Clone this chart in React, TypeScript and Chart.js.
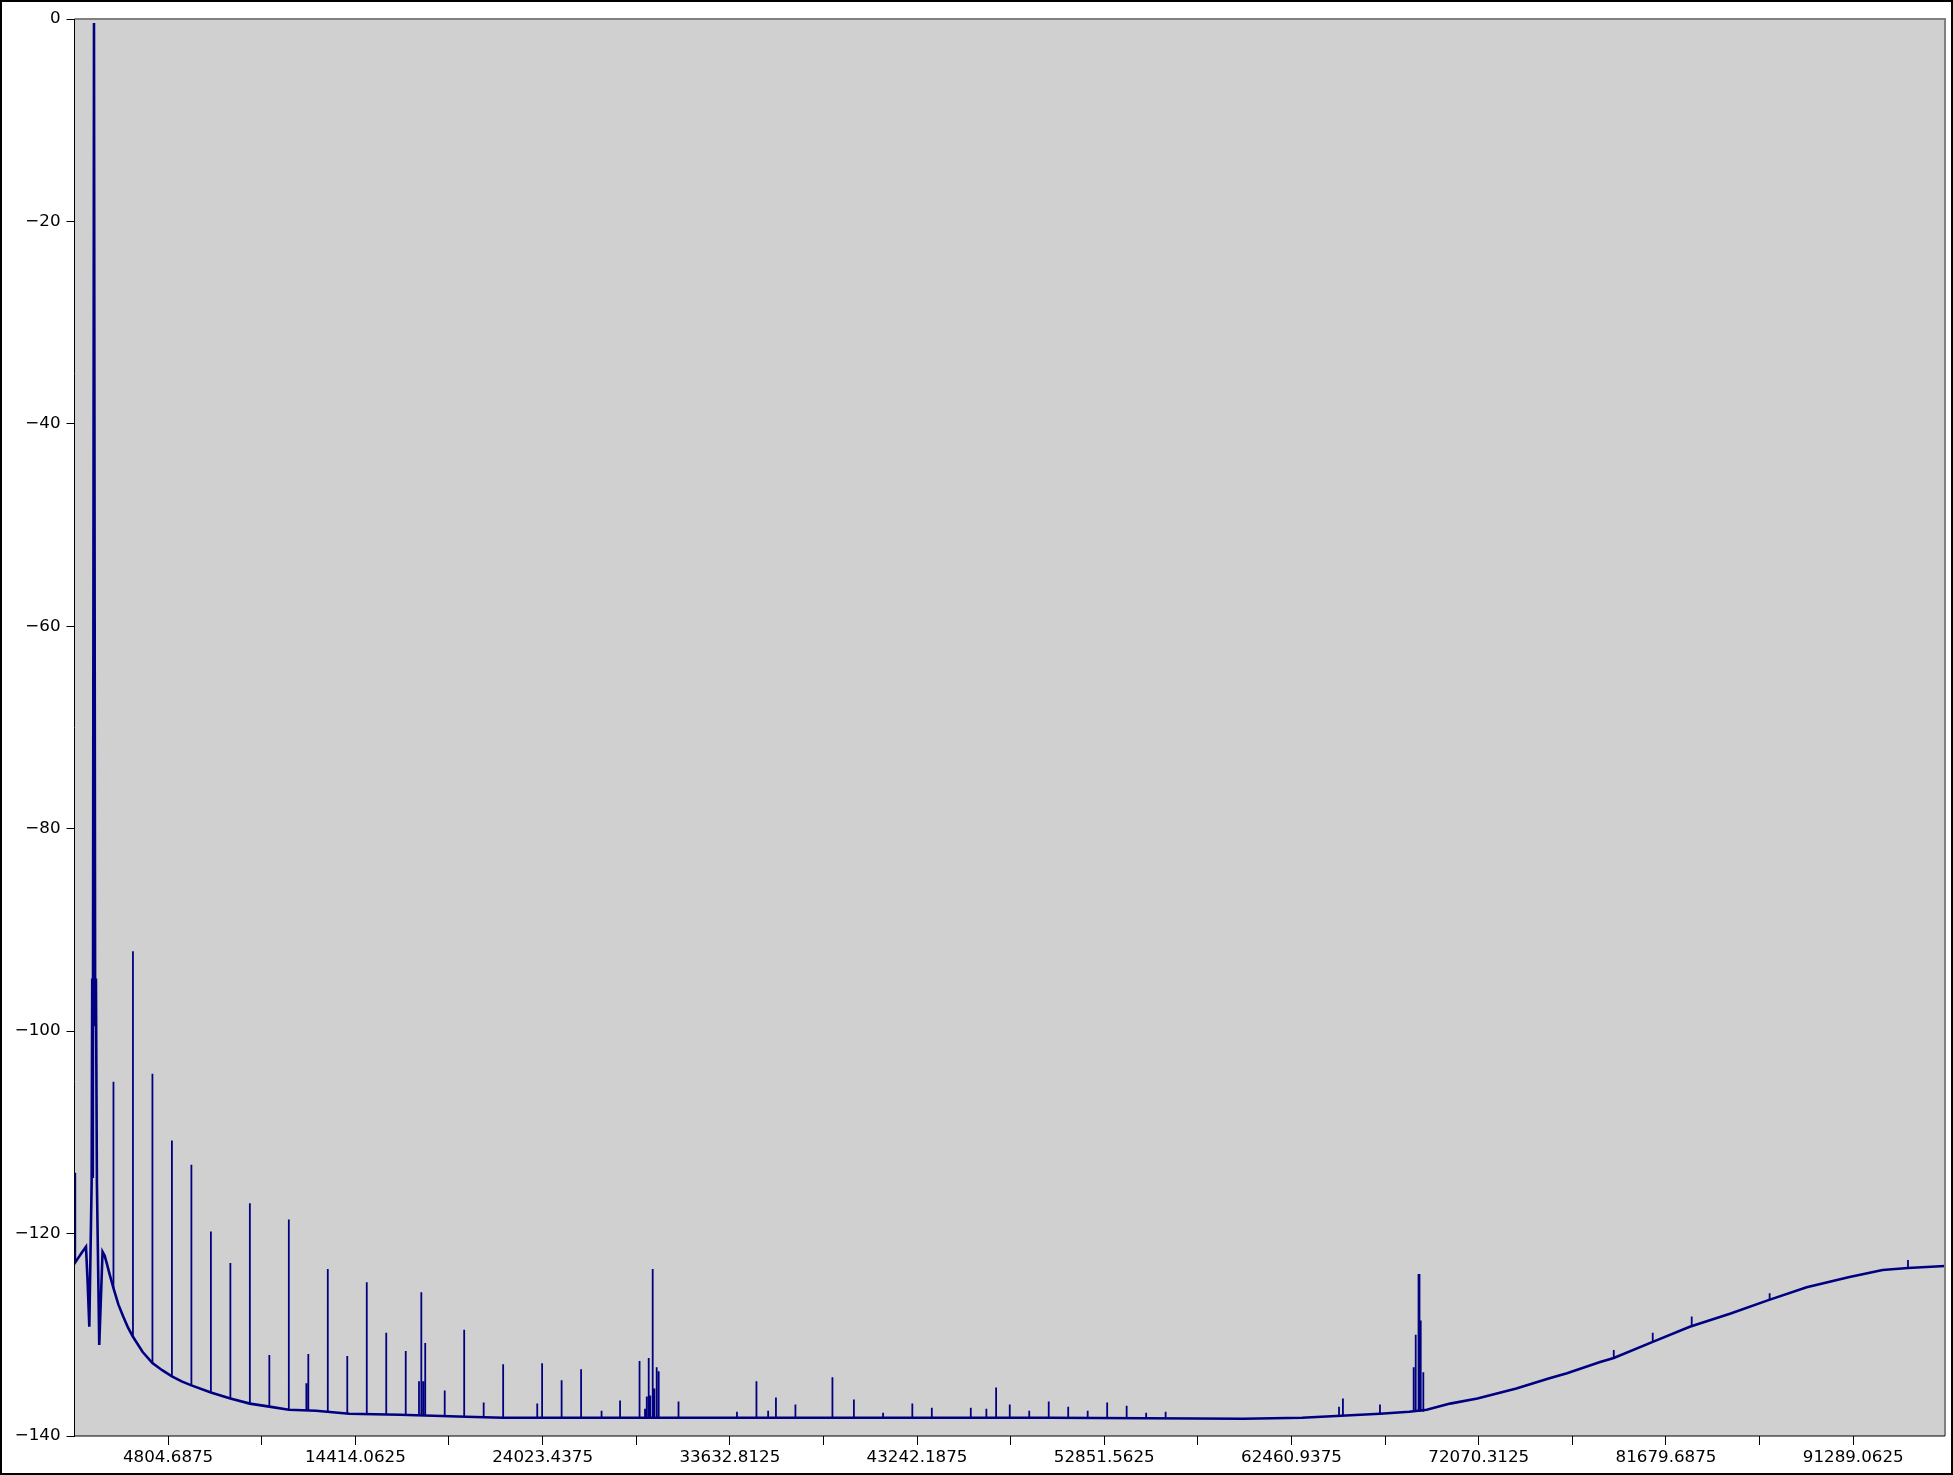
import { useEffect, useRef } from 'react';
import { Chart, registerables } from 'chart.js';

Chart.register(...registerables);

// Noise floor of the spectrum (Hz, dB)
const floorFreqs = [
  0, 20, 195, 370, 590, 675, 760, 880, 910, 940, 1000, 1060, 1100, 1150, 1270,
  1440, 1550, 1650, 1800, 2000, 2250, 2500, 2750, 3000, 3500, 4000, 4500, 5000, 5500,
  6000, 7000, 8000, 9000, 10000, 11000, 12400, 14100, 16700, 20100, 22000, 30000,
  40000, 50000, 60000, 63000, 65000, 67000, 68500, 69400, 70600, 72000, 74000, 75700,
  76600, 78300, 79000, 81000, 82900, 85000, 86900, 88900, 91100, 92800, 94100, 96000,
];
const floorLevels = [
  -114, -122.9, -122.4, -121.9, -121.3, -124.9, -129.2, -115, -94.8, -114.5, -0.4, -99.4, -94.8, -115, -131,
  -121.8, -122.2, -122.9, -124.0, -125.4, -127.0, -128.2, -129.3, -130.2, -131.7, -132.8, -133.5, -134.1, -134.6,
  -135.0, -135.7, -136.3, -136.8, -137.1, -137.4, -137.5, -137.8, -137.9, -138.1, -138.2, -138.2,
  -138.2, -138.2, -138.3, -138.2, -138.0, -137.8, -137.6, -137.4, -136.8, -136.3, -135.3, -134.3,
  -133.8, -132.7, -132.3, -130.7, -129.2, -127.9, -126.6, -125.3, -124.3, -123.6, -123.4, -123.2,
];

// Discrete spectral lines (Hz, peak dB, floor dB under the line)
const spikeFreqs = [
  2000, 3000, 4000, 5000, 6000, 7000, 8000, 9000, 10000, 11000, 11900, 12000, 13000, 14000,
  15000, 16000, 17000, 17680, 17800, 17900, 18000, 19000, 20000, 21000, 22000, 23750, 24000,
  25000, 26000, 27050, 28000, 29000, 29280, 29370, 29470, 29550, 29675, 29760, 29880, 29983,
  31000, 34000, 35000, 35600, 36000, 37000, 38900, 40000, 41500, 43000, 44000, 46000, 46800,
  47300, 48000, 49000, 50000, 51000, 52000, 53000, 54000, 55000, 56000, 64900, 65100, 67000,
  68730, 68835, 68980, 69030, 69093, 69226, 79000, 81000, 83000, 87000, 94100,
];
const spikePeaks = [
  -105.0, -92.1, -104.2, -110.8, -113.2, -119.8, -122.9, -117.0, -132.0, -118.6, -134.8, -131.9, -123.5, -132.1,
  -124.8, -129.8, -131.6, -134.6, -125.8, -134.6, -130.8, -135.5, -129.5, -136.7, -132.9, -136.8, -132.8,
  -134.5, -133.4, -137.5, -136.5, -132.6, -137.3, -136.1, -132.3, -136.0, -123.5, -135.3, -133.2, -133.6,
  -136.6, -137.6, -134.6, -137.5, -136.2, -136.9, -134.2, -136.4, -137.7, -136.8, -137.2, -137.2, -137.3,
  -135.2, -136.9, -137.5, -136.6, -137.1, -137.5, -136.7, -137.0, -137.7, -137.6, -137.1, -136.3, -136.9,
  -133.2, -130.0, -124.0, -124.0, -128.6, -133.7, -131.5, -129.8, -128.2, -125.9, -122.6,
];
const spikeBases = [
  -125.4, -130.2, -132.8, -134.1, -135.0, -135.7, -136.3, -136.8, -137.1, -137.4, -137.5, -137.5, -137.6, -137.8,
  -137.8, -137.9, -137.9, -138.0, -138.0, -138.0, -138.0, -138.0, -138.1, -138.1, -138.2, -138.2, -138.2,
  -138.2, -138.2, -138.2, -138.2, -138.2, -138.2, -138.2, -138.2, -138.2, -138.2, -138.2, -138.2, -138.2,
  -138.2, -138.2, -138.2, -138.2, -138.2, -138.2, -138.2, -138.2, -138.2, -138.2, -138.2, -138.2, -138.2,
  -138.2, -138.2, -138.2, -138.2, -138.2, -138.2, -138.2, -138.2, -138.2, -138.2, -138.0, -138.0, -137.8,
  -137.6, -137.6, -137.6, -137.6, -137.6, -137.6, -132.3, -130.7, -129.2, -126.6, -123.4,
];

const xLabeledTicks = [
  4804.6875, 14414.0625, 24023.4375, 33632.8125, 43242.1875,
  52851.5625, 62460.9375, 72070.3125, 81679.6875, 91289.0625,
];
const xUnlabeledTicks = [
  9609.375, 19218.75, 28828.125, 38437.5, 48046.875,
  57656.25, 67265.625, 76875, 86484.375,
];
const yTickValues = [0, -20, -40, -60, -80, -100, -120, -140];

const W = 1953;
const H = 1475;
const FONT = { family: 'DejaVu Sans', size: 16.7 };

export default function App() {
  const ref = useRef<HTMLCanvasElement | null>(null);

  useEffect(() => {
    document.body.style.margin = '0';
    document.body.style.overflow = 'hidden';
    const canvas = ref.current;
    if (!canvas) return;

    const floorData = floorFreqs.map((f, i) => ({ x: f, y: floorLevels[i] }));
    const spikeData: { x: number; y: number | null }[] = [];
    spikeFreqs.forEach((f, i) => {
      spikeData.push({ x: f, y: spikeBases[i] });
      spikeData.push({ x: f, y: spikePeaks[i] });
      spikeData.push({ x: f, y: null });
    });

    const allXTicks = [...xLabeledTicks, ...xUnlabeledTicks].sort((a, b) => a - b);

    const framePlugin = {
      id: 'frame',
      beforeDraw(chart: any) {
        const { ctx, chartArea } = chart;
        ctx.save();
        ctx.fillStyle = '#ffffff';
        ctx.fillRect(0, 0, chart.width, chart.height);
        ctx.fillStyle = '#d0d0d0';
        ctx.fillRect(chartArea.left, chartArea.top, chartArea.right - chartArea.left, chartArea.bottom - chartArea.top);
        ctx.restore();
      },
      afterDatasetsDraw(chart: any) {
        const { ctx, chartArea } = chart;
        const { left, right, top, bottom } = chartArea;
        ctx.save();
        ctx.strokeStyle = '#808080';
        ctx.lineWidth = 2;
        ctx.beginPath();
        ctx.moveTo(left, top);
        ctx.lineTo(right, top);
        ctx.lineTo(right, bottom);
        ctx.stroke();
        ctx.strokeStyle = '#000000';
        ctx.lineWidth = 1;
        ctx.beginPath();
        ctx.moveTo(left, top);
        ctx.lineTo(left, bottom);
        ctx.lineTo(right, bottom);
        ctx.stroke();
        ctx.restore();
      },
    };

    const chart = new Chart(canvas, {
      type: 'line',
      data: {
        datasets: [
          {
            data: floorData as any,
            borderColor: '#000080',
            borderWidth: 2.6,
            pointRadius: 0,
            tension: 0,
          },
          {
            data: spikeData as any,
            borderColor: '#000080',
            borderWidth: 1.8,
            pointRadius: 0,
            tension: 0,
            spanGaps: false,
          },
        ],
      },
      options: {
        animation: false,
        responsive: false,
        maintainAspectRatio: false,
        devicePixelRatio: 1,
        layout: { padding: { top: 19, right: 8, left: 0, bottom: 0 } },
        plugins: { legend: { display: false }, tooltip: { enabled: false } },
        scales: {
          x: {
            type: 'linear',
            min: 0,
            max: 96000,
            afterBuildTicks: (s: any) => {
              s.ticks = allXTicks.map((v) => ({ value: v }));
            },
            afterFit: (s: any) => {
              s.height = 39;
            },
            ticks: {
              autoSkip: false,
              maxRotation: 0,
              minRotation: 0,
              padding: 3,
              color: '#000000',
              font: FONT,
              callback: (v: any) => (xLabeledTicks.includes(Number(v)) ? String(v) : ''),
            },
            grid: { drawOnChartArea: false, tickLength: 9, color: '#000000', lineWidth: 1 },
            border: { display: false },
          },
          y: {
            type: 'linear',
            min: -140,
            max: 0,
            afterBuildTicks: (s: any) => {
              s.ticks = yTickValues.map((v) => ({ value: v }));
            },
            afterFit: (s: any) => {
              s.width = 74.5;
            },
            ticks: {
              padding: 6,
              color: '#000000',
              font: FONT,
              callback: (v: any) => (Number(v) < 0 ? '\u2212' + Math.abs(Number(v)) : String(v)),
            },
            grid: { drawOnChartArea: false, tickLength: 8, color: '#000000', lineWidth: 1 },
            border: { display: false },
          },
        },
      },
      plugins: [framePlugin],
    });

    return () => chart.destroy();
  }, []);

  return (
    <div style={{ position: 'absolute', left: 0, top: 0, width: W, height: H }}>
      <canvas ref={ref} width={W} height={H} style={{ width: W, height: H, display: 'block' }} />
      <div
        style={{
          position: 'absolute',
          left: 0,
          top: 0,
          width: W,
          height: H,
          boxSizing: 'border-box',
          border: '2px solid #000',
          pointerEvents: 'none',
        }}
      />
    </div>
  );
}
